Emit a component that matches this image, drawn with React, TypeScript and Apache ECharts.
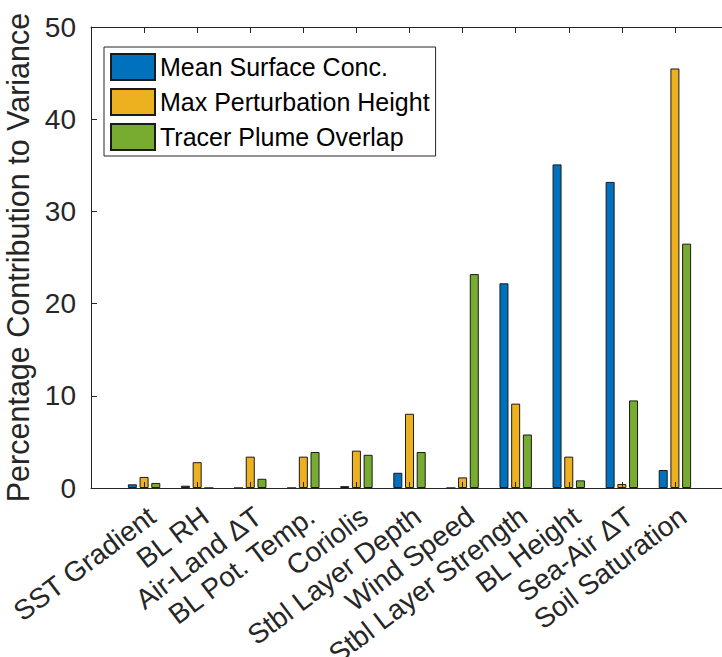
import React, { useEffect, useRef } from 'react';
import * as echarts from 'echarts';

const categories = [
  'SST Gradient',
  'BL RH',
  'Air-Land ΔT',
  'BL Pot. Temp.',
  'Coriolis',
  'Stbl Layer Depth',
  'Wind Speed',
  'Stbl Layer Strength',
  'BL Height',
  'Sea-Air ΔT',
  'Soil Saturation',
];
const seriesNames = ['Mean Surface Conc.', 'Max Perturbation Height', 'Tracer Plume Overlap'];
const meanSurfaceConc = [0.4, 0.25, 0, 0, 0.2, 1.65, 0, 22.2, 35.1, 33.2, 1.95];
const maxPerturbationHeight = [1.2, 2.8, 3.4, 3.4, 4.05, 8.05, 1.15, 9.15, 3.4, 0.43, 45.5];
const tracerPlumeOverlap = [0.55, 0, 1.0, 3.9, 3.6, 3.9, 23.2, 5.8, 0.83, 9.5, 26.5];
const yMin = 0;
const yMax = 50;
const yInterval = 10;
const colors = ['#0072BD', '#EDB120', '#77AC30'];

export default function App() {
  const ref = useRef<HTMLDivElement>(null);
  useEffect(() => {
    document.body.style.margin = '0';
    document.body.style.overflow = 'hidden';
    const chart = echarts.init(ref.current!, null, { renderer: 'svg' });
    const font = '"Liberation Sans", Arial, Helvetica, sans-serif';
    const axisColor = '#262626';
    const slots = ['', ...categories, ''];
    const toData = (arr: number[]) => arr.map((v, i) => [i + 1, v]);
    const values = [meanSurfaceConc, maxPerturbationHeight, tracerPlumeOverlap];
    const plainX = (position: string) => ({
      type: 'category',
      data: slots,
      boundaryGap: false,
      gridIndex: 0,
      position,
      z: 5,
      axisLine: { show: true, lineStyle: { color: axisColor, width: 1 } },
      axisTick: { show: true, inside: true, length: 6, interval: 0, lineStyle: { color: axisColor } },
      axisLabel: { show: false },
      splitLine: { show: false },
    });
    chart.setOption({
      animation: false,
      textStyle: { fontFamily: font },
      grid: [
        { left: 91, top: 27, width: 637, height: 461, outerBoundsMode: 'none', containLabel: false },
        { left: 99, top: 27, width: 637, height: 461, outerBoundsMode: 'none', containLabel: false },
      ],
      xAxis: [
        plainX('bottom'),
        plainX('top'),
        {
          type: 'category',
          data: slots,
          boundaryGap: false,
          gridIndex: 1,
          position: 'bottom',
          axisLine: { show: false },
          axisTick: { show: false },
          splitLine: { show: false },
          axisLabel: {
            interval: 0,
            rotate: 37,
            margin: 25,
            fontSize: 28,
            color: axisColor,
            fontFamily: font,
          },
        },
      ],
      yAxis: [
        {
          type: 'value',
          gridIndex: 0,
          min: yMin,
          max: yMax,
          interval: yInterval,
          z: 5,
          axisLine: { show: true, lineStyle: { color: axisColor, width: 1 } },
          axisTick: { show: true, inside: true, length: 6, lineStyle: { color: axisColor } },
          splitLine: { show: false },
          axisLabel: { fontSize: 28, color: axisColor, margin: 15, fontFamily: font },
          name: 'Percentage Contribution to Variance',
          nameLocation: 'middle',
          nameGap: 53,
          nameTextStyle: { fontSize: 30.5, color: axisColor, fontFamily: font },
        },
        { type: 'value', gridIndex: 1, min: yMin, max: yMax, show: false },
      ],
      legend: {
        orient: 'vertical',
        left: 104,
        top: 47,
        padding: [6, 6, 5, 6],
        itemWidth: 44,
        itemHeight: 26,
        itemGap: 7,
        borderColor: axisColor,
        borderWidth: 1,
        backgroundColor: '#ffffff',
        icon: 'rect',
        selectedMode: false,
        textStyle: { fontSize: 25, color: '#000000', fontFamily: font },
        data: seriesNames,
      },
      series: seriesNames.map((name, k) => ({
        name,
        type: 'bar',
        xAxisIndex: 0,
        yAxisIndex: 0,
        barWidth: 9,
        barGap: '30%',
        data: toData(values[k]),
        itemStyle: { color: colors[k], borderColor: '#1a1a1a', borderWidth: 1 },
      })),
    });
    return () => chart.dispose();
  }, []);
  return (
    <div style={{ width: 722, height: 657, overflow: 'hidden', position: 'relative' }}>
      <div ref={ref} style={{ width: 760, height: 657 }} />
    </div>
  );
}
